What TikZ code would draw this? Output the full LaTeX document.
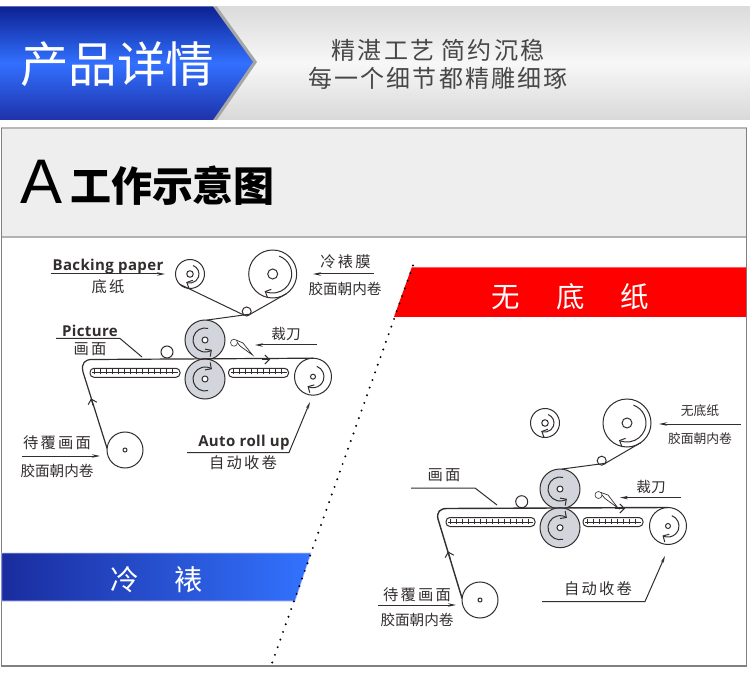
\documentclass[tikz,border=0pt]{standalone}
\usepackage{fontspec}
\usetikzlibrary{arrows.meta,calc}
\setmainfont{Liberation Sans}
\newfontfamily\cjk{Noto Sans CJK SC}
\newfontfamily\cjkl{Noto Sans CJK SC}[LetterSpace=9]
\newfontfamily\cjks{Noto Sans CJK SC}[LetterSpace=14]
\newfontfamily\latb{Open Sans}[LetterSpace=2.5]
\definecolor{ink}{HTML}{332E2E}
\definecolor{rollgrey}{HTML}{D3D5DC}
\tikzset{
  every node/.style={inner sep=0pt,outer sep=0pt},
  line/.style={draw=ink,line width=1pt},
  web/.style={draw=ink,line width=1.2pt},
  lead/.style={draw=ink,line width=1pt},
  leadarrow/.style={lead,-{Stealth[length=8pt,width=3.5pt]}},
  flow/.style={draw=ink,line width=1pt,-{Straight Barb[length=4.5pt,width=9pt]}},
  roll/.style={circle,draw=ink,line width=1pt,fill=white},
  bigroll/.style={roll,minimum size=40pt,fill=rollgrey},
  hub/.style={circle,draw=ink,line width=1pt,fill=white},
  label/.style={text=ink,font=\cjks\fontsize{15.3}{15.5}\selectfont},
  smalllabel/.style={text=ink,font=\cjk\fontsize{14.6}{15}\selectfont},
  latin/.style={text=ink,font=\latb\bfseries\fontsize{15}{15}\selectfont},
  beltbox/.style={draw=ink,line width=1pt,rounded corners=4pt,minimum height=9pt,fill=white},
}
\newcommand{\flowarc}[4]{\draw[flow] (#1) ++(#2:#4) arc[start angle=#2,end angle=#3,radius=#4];}
\newcommand{\beltticks}[3]{%
  \draw[line,line width=0.8pt] ($(#1.west)+(2,0)$) -- ($(#1.east)+(-2,0)$);
  \foreach \tx in {#2} {\draw[line,line width=0.7pt] (\tx,#3+3.5) -- (\tx,#3-1.5);}}
\begin{document}
\begin{tikzpicture}[x=1pt,y=1pt]
\useasboundingbox (0,0) rectangle (750,-676);
\fill[white] (0,0) rectangle (750,-676);
% header
\shade[top color=black!14,bottom color=black!15,middle color=black!3] (215,-6.5) rectangle (750,-120);
\fill[black!35] (213,-6.5) -- (217,-6.5) -- (257,-62) -- (217,-120) -- (213,-120) -- cycle;
\shade[top color={rgb,255:red,13;green,33;blue,146},bottom color={rgb,255:red,30;green,50;blue,170},middle color={rgb,255:red,50;green,112;blue,255}]
  (0,-6.5) -- (213,-6.5) -- (253,-62) -- (213,-120) -- (0,-120) -- cycle;
\node[text=white,font=\cjk\fontsize{48.5}{49}\selectfont] (title) at (117,-64) {产品详情};
\node[text=black!72,font=\cjkl\fontsize{24}{24}\selectfont] (sub1) at (438,-50) {精湛工艺 简约沉稳};
\node[text=black!72,font=\cjkl\fontsize{24}{24}\selectfont] (sub2) at (438,-78) {每一个细节都精雕细琢};
% panel
\fill[black!6.5] (1.2,-128) rectangle (746.5,-237);
\draw[black!28,line width=1.5pt] (1,-128) -- (747,-128);
\draw[black!30,line width=1.5pt] (1,-237) -- (747,-237);
\draw[black!50,line width=1.1pt] (1.2,-128) -- (1.2,-666) -- (746.5,-666) -- (746.5,-128);
\node[text=black,font=\fontsize{63}{63}\selectfont] (bigA) at (42,-182) {A};
\node[text=black,font=\cjk\bfseries\fontsize{41}{41}\selectfont] (ptitle) at (172.5,-186) {工作示意图};
% banners
\shade[left color={rgb,255:red,26;green,44;blue,158},right color={rgb,255:red,51;green,115;blue,255},draw=blue!25!white,line width=0.6pt]
  (1.7,-553) -- (311,-553) -- (295,-601) -- (1.7,-601) -- cycle;
\node[text=white,font=\cjk\fontsize{28.5}{29}\selectfont] (lb) at (157,-580) {冷\hspace{35.5pt}裱};
\fill[red] (411.7,-267.5) -- (746,-267.5) -- (746,-316.8) -- (394,-316.8) -- cycle;
\node[text=white,font=\cjk\fontsize{28.5}{29}\selectfont] (rb) at (570.5,-297) {无\hspace{36pt}底\hspace{36pt}纸};
\coordinate (dotA) at (413,-265.5);
\coordinate (dotB) at (271,-666);
\draw[black,line width=2.2pt,line cap=round,dash pattern=on 0pt off 8.1pt] (dotA) -- (dotB);

% ---------- left machine ----------
\node[roll,minimum size=29pt] (lbk) at (190,-274) {};
\node[hub,minimum size=6.5pt] (lbkh) at (190,-274) {};
\node[roll,minimum size=48pt] (lfm) at (272.7,-274) {};
\node[hub,minimum size=10pt] (lfmh) at (272.7,-274) {};
\node[roll,minimum size=9pt] (lsm) at (246.7,-311.5) {};
\node[bigroll] (lup) at (205,-340) {};
\node[bigroll] (llo) at (205,-379) {};
\node[hub,minimum size=6pt] (luph) at (205,-340) {};
\node[hub,minimum size=6pt] (lloh) at (205,-379) {};
\node[roll,minimum size=37pt] (lrr) at (313,-376.7) {};
\node[hub,minimum size=5pt] (lrrh) at (313,-376.7) {};
\node[roll,minimum size=12pt] (lpr) at (167,-352) {};
\node[roll,minimum size=36pt] (lsr) at (125,-450) {};
\node[hub,minimum size=4pt] (lsrh) at (125,-450) {};
\node[beltbox,minimum width=90pt] (lb1) at (135,-372.8) {};
\node[beltbox,minimum width=60pt] (lb2) at (258.5,-372.8) {};
\beltticks{lb1}{94,100,...,176}{-372.8}
\beltticks{lb2}{233,239,...,285}{-372.8}
\flowarc{lbk}{70}{-115}{9}
\flowarc{lfm}{70}{-115}{19}
\flowarc{lup}{75}{305}{12}
\flowarc{llo}{-75}{-305}{12}
\flowarc{lrr}{70}{-120}{11}
\draw[line] (lbk.225) -- (lsm.235);
\draw[line] (lfm.-55) -- (lsm.-35) -- (lup.85);
\coordinate (lc1) at (83,-372); \coordinate (lc2) at (92,-359.5);
\draw[web] (lsr.175) -- (lc1) .. controls (81,-363) and (85,-359.5) .. (lc2) -- (lrr.north);
\draw[flow] (lsr.175) ++(-14,43) -- ++(-2,7);
\draw[flow] (262,-359.5) -- (270,-359.5);
% knife
\node[circle,draw=ink,line width=0.6pt,fill=white,minimum size=7pt] (lkn) at (234,-342.7) {};
\coordinate (lkt) at (252.5,-355);
\draw[line,line width=0.7pt] (lkn.north east) -- (243,-343) -- (lkt) -- (240,-346) -- (lkn.east);

% left labels
\node[latin] (t1) at (108,-266.5) {Backing paper};
\coordinate (t1a) at (50.5,-274); \coordinate (t1b) at (165,-274);
\draw[leadarrow] (t1a) -- (t1b);
\node[label] (t2) at (108,-287) {底纸};
\node[latin] (t3) at (90,-331) {Picture};
\coordinate (t3a) at (56,-338.5); \coordinate (t3b) at (120,-338.5); \coordinate (t3c) at (142,-357);
\draw[lead] (t3a) -- (t3b) -- (t3c);
\node[label] (t4) at (90,-349) {画面};
\node[label] (t5) at (57,-443) {待覆画面};
\coordinate (t5a) at (22,-456); \coordinate (t5b) at (100,-456);
\draw[leadarrow] (t5a) -- (t5b);
\node[smalllabel] (t6) at (57,-471) {胶面朝内卷};
\node[latin] (t7) at (244,-442.5) {Auto roll up};
\coordinate (t7a) at (187,-452.5); \coordinate (t7b) at (289,-452.5); \coordinate (t7c) at (310,-402);
\draw[lead,-{Stealth[length=7pt,width=3pt]}] (t7a) -- (t7b) -- (t7c);
\node[label] (t8) at (243,-463) {自动收卷};
\node[label] (t9) at (345.5,-262) {冷裱膜};
\coordinate (t9a) at (374,-274); \coordinate (t9b) at (313,-274);
\draw[leadarrow] (t9a) -- (t9b);
\node[smalllabel] (t10) at (345,-289) {胶面朝内卷};
\node[smalllabel] (t11) at (286,-334) {裁刀};
\coordinate (t11a) at (317,-345); \coordinate (t11b) at (255,-345);
\draw[leadarrow] (t11a) -- (t11b);

% ---------- right machine ----------
\node[roll,minimum size=29pt] (rbk) at (545,-423) {};
\node[hub,minimum size=6.5pt] (rbkh) at (545,-423) {};
\node[roll,minimum size=48pt] (rfm) at (627,-423) {};
\node[hub,minimum size=10pt] (rfmh) at (627,-423) {};
\node[roll,minimum size=9pt] (rsm) at (601.7,-460.7) {};
\node[bigroll] (rup) at (560,-489) {};
\node[bigroll] (rlo) at (560,-527.7) {};
\node[hub,minimum size=6pt] (ruph) at (560,-489) {};
\node[hub,minimum size=6pt] (rloh) at (560,-527.7) {};
\node[roll,minimum size=37pt] (rrr) at (668,-526) {};
\node[hub,minimum size=5pt] (rrrh) at (668,-526) {};
\node[roll,minimum size=12pt] (rpr) at (521.7,-501.7) {};
\node[roll,minimum size=36pt] (rsr) at (480,-600) {};
\node[hub,minimum size=4pt] (rsrh) at (480,-600) {};
\node[beltbox,minimum width=89pt] (rb1) at (490.5,-522) {};
\node[beltbox,minimum width=60pt] (rb2) at (613,-522) {};
\beltticks{rb1}{450,456,...,532}{-522}
\beltticks{rb2}{587,593,...,640}{-522}
\flowarc{rbk}{70}{-115}{9}
\flowarc{rfm}{70}{-115}{19}
\flowarc{rup}{75}{305}{12}
\flowarc{rlo}{-75}{-305}{12}
\flowarc{rrr}{70}{-120}{11}
\draw[line] (rfm.-55) -- (rsm.-35) -- (rup.85);
\coordinate (rc1) at (438,-519); \coordinate (rc2) at (447,-508.5);
\draw[web,line width=1.4pt] (rsr.175) -- (rc1) .. controls (436.5,-512) and (440,-508.5) .. (rc2) -- (rrr.north);
\draw[flow] (rsr.175) ++(-12,40) -- ++(-2,7);
\draw[flow] (615,-508.5) -- (625,-508.5);
\node[circle,draw=ink,line width=0.6pt,fill=white,minimum size=7pt] (rkn) at (598.5,-495) {};
\coordinate (rkt) at (618,-508);
\draw[line,line width=0.7pt] (rkn.north east) -- (608,-495) -- (rkt) -- (605,-498.5) -- (rkn.east);

% right labels
\node[smalllabel,font=\cjk\fontsize{12.8}{13}\selectfont] (u1) at (700,-411) {无底纸};
\coordinate (u1a) at (741,-424); \coordinate (u1b) at (659,-424);
\draw[leadarrow] (u1a) -- (u1b);
\node[smalllabel,font=\cjk\fontsize{12.8}{13}\selectfont] (u2) at (700,-439) {胶面朝内卷};
\node[smalllabel] (u3) at (651,-487) {裁刀};
\coordinate (u3a) at (681,-497.6); \coordinate (u3b) at (620,-497.6);
\draw[leadarrow] (u3a) -- (u3b);
\node[label] (u4) at (444,-475) {画面};
\coordinate (u4a) at (411,-488); \coordinate (u4b) at (475,-488); \coordinate (u4c) at (497,-505);
\draw[lead] (u4a) -- (u4b) -- (u4c);
\node[label] (u5) at (417,-595) {待覆画面};
\coordinate (u5a) at (378,-605); \coordinate (u5b) at (456,-605);
\draw[leadarrow] (u5a) -- (u5b);
\node[smalllabel] (u6) at (417,-620) {胶面朝内卷};
\node[label] (u7) at (598,-589) {自动收卷};
\coordinate (u7a) at (542,-601.5); \coordinate (u7b) at (645,-601.5); \coordinate (u7c) at (665,-556);
\draw[lead,-{Stealth[length=7pt,width=3pt]}] (u7a) -- (u7b) -- (u7c);
\end{tikzpicture}
\end{document}
